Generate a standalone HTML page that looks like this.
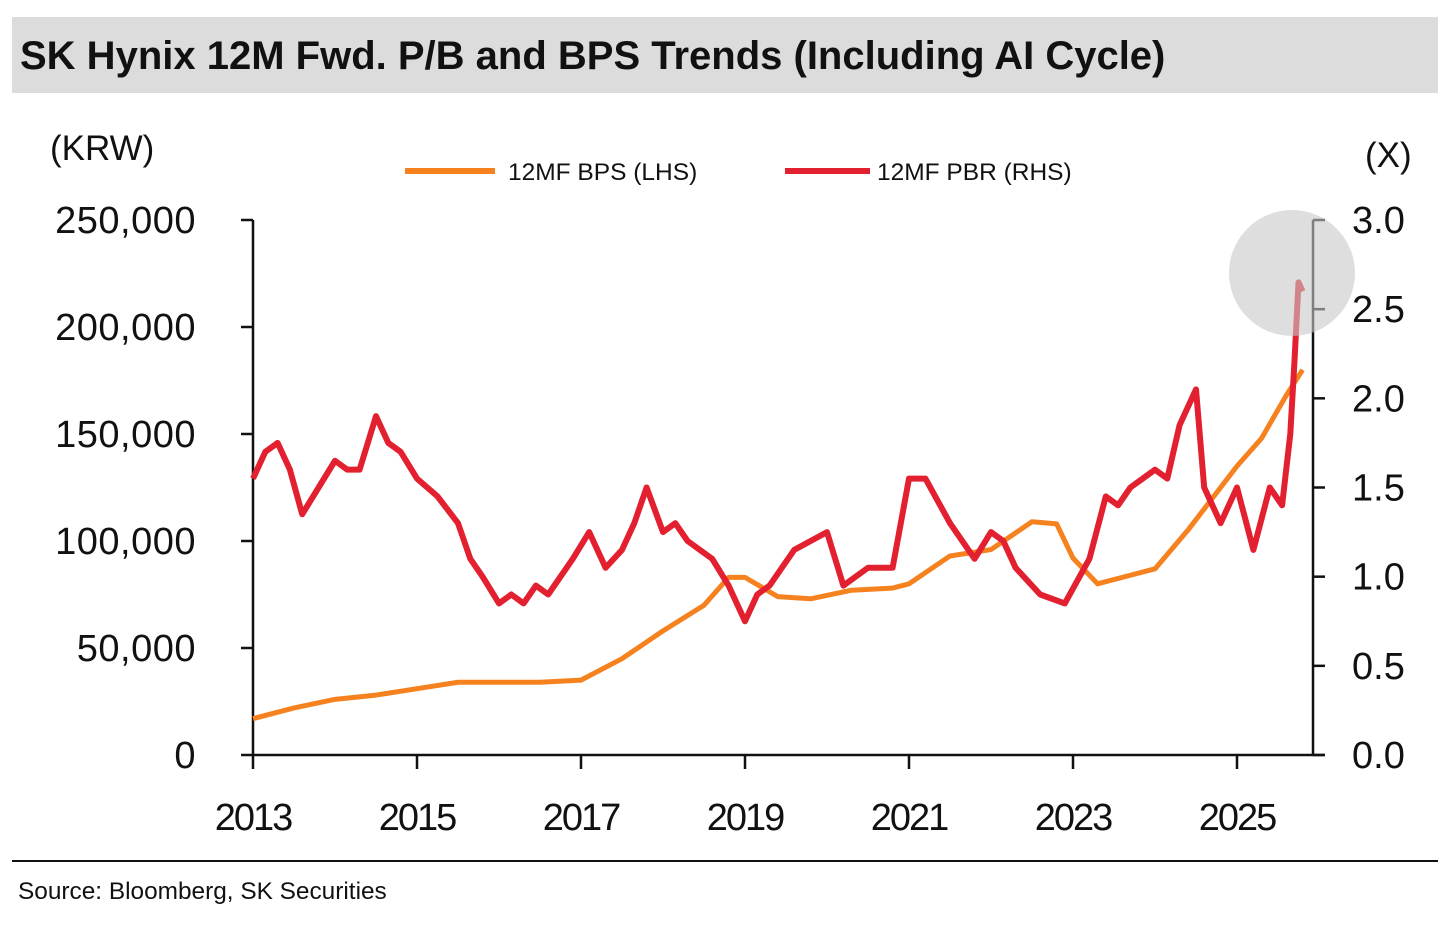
<!DOCTYPE html>
<html><head><meta charset="utf-8"><style>
body{margin:0;background:#fff;width:1456px;height:921px;overflow:hidden;font-family:"Liberation Sans",sans-serif}
</style></head><body>
<svg width="1456" height="921">
<rect x="12" y="17" width="1426" height="76" fill="#dcdcdc"/>
<text x="20" y="69" font-size="40" font-weight="bold" fill="#111">SK Hynix 12M Fwd. P/B and BPS Trends (Including AI Cycle)</text>
<text x="50" y="160" font-size="35" fill="#111">(KRW)</text>
<text x="1365" y="167" font-size="35" fill="#111">(X)</text>
<g>
<line x1="405" y1="171" x2="495" y2="171" stroke="#f5821f" stroke-width="6"/>
<text x="508" y="180" font-size="24.5" fill="#111">12MF BPS (LHS)</text>
<line x1="785" y1="171" x2="870" y2="171" stroke="#e3202f" stroke-width="6"/>
<text x="877" y="180" font-size="24.5" fill="#111">12MF PBR (RHS)</text>
</g>
<g id="axes"></g>
<g id="series"></g>
<circle cx="1292" cy="273" r="63" fill="#c8c8c8" opacity="0.6"/>
<line x1="12" y1="861" x2="1438" y2="861" stroke="#111" stroke-width="2"/>
<text x="18" y="899" font-size="24.4" fill="#111">Source: Bloomberg, SK Securities</text>
</svg>
<script>
const leftTicks=[0,50000,100000,150000,200000,250000];
const leftLabels=["0","50,000","100,000","150,000","200,000","250,000"];
const rightTicks=[0,0.5,1,1.5,2,2.5,3];
const rightLabels=["0.0","0.5","1.0","1.5","2.0","2.5","3.0"];
const yearTicks=[2013,2015,2017,2019,2021,2023,2025];
const bpsX=[2013,2013.5,2014,2014.5,2015,2015.5,2016,2016.5,2017,2017.5,2018,2018.5,2018.8,2019,2019.4,2019.8,2020.3,2020.8,2021,2021.5,2022,2022.5,2022.8,2023,2023.3,2023.7,2024,2024.4,2024.8,2025,2025.3,2025.6,2025.8];
const bpsY=[17000,22000,26000,28000,31000,34000,34000,34000,35000,45000,58000,70000,83000,83000,74000,73000,77000,78000,80000,93000,96000,109000,108000,92000,80000,84000,87000,105000,125000,135000,148000,168000,180000];
const pbrX=[2013,2013.15,2013.3,2013.45,2013.6,2013.8,2014,2014.15,2014.3,2014.5,2014.65,2014.8,2015,2015.25,2015.5,2015.65,2015.8,2016,2016.15,2016.3,2016.45,2016.6,2016.9,2017.1,2017.3,2017.5,2017.65,2017.8,2018,2018.15,2018.3,2018.6,2018.8,2019,2019.15,2019.3,2019.6,2019.8,2020,2020.2,2020.5,2020.8,2021,2021.2,2021.5,2021.8,2022,2022.15,2022.3,2022.6,2022.9,2023.2,2023.4,2023.55,2023.7,2024,2024.15,2024.3,2024.5,2024.6,2024.8,2025,2025.2,2025.4,2025.55,2025.65,2025.7,2025.75,2025.8];
const pbrY=[1.55,1.7,1.75,1.6,1.35,1.5,1.65,1.6,1.6,1.9,1.75,1.7,1.55,1.45,1.3,1.1,1.0,0.85,0.9,0.85,0.95,0.9,1.1,1.25,1.05,1.15,1.3,1.5,1.25,1.3,1.2,1.1,0.95,0.75,0.9,0.95,1.15,1.2,1.25,0.95,1.05,1.05,1.55,1.55,1.3,1.1,1.25,1.2,1.05,0.9,0.85,1.1,1.45,1.4,1.5,1.6,1.55,1.85,2.05,1.5,1.3,1.5,1.15,1.5,1.4,1.8,2.2,2.65,2.6];
const X0=253,X1=1313,YB=755,YT=220;
const xs=y=>X0+(y-2013)*82;
const yl=v=>YB-(v/250000)*(YB-YT);
const yr=v=>YB-(v/3)*(YB-YT);
const NS="http://www.w3.org/2000/svg";
const ax=document.getElementById('axes'),se=document.getElementById('series');
function mk(tag,attrs,parent){const e=document.createElementNS(NS,tag);for(const k in attrs)e.setAttribute(k,attrs[k]);parent.appendChild(e);return e;}
let e;
e=mk('line',{x1:X0,y1:YT,x2:X0,y2:YB,stroke:'#111','stroke-width':2.5},ax);


e=mk('line',{x1:X1,y1:YT,x2:X1,y2:YB,stroke:'#111','stroke-width':2.5},ax);


e=mk('line',{x1:X0,y1:YB,x2:1325,y2:YB,stroke:'#111','stroke-width':2.5},ax);


leftTicks.forEach((v,i)=>{
 e=mk('line',{x1:X0-12,y1:yl(v),x2:X0,y2:yl(v),stroke:'#111','stroke-width':2.5},ax);
 
 
 e=mk('text',{x:196,y:yl(v)+13,'font-size':38,'text-anchor':'end',fill:'#111','letter-spacing':'0.5'},ax);e.textContent=leftLabels[i];
 
 
});
rightTicks.forEach((v,i)=>{
 e=mk('line',{x1:X1,y1:yr(v),x2:X1+12,y2:yr(v),stroke:'#111','stroke-width':2.5},ax);
 
 
 e=mk('text',{x:1352,y:yr(v)+13,'font-size':38,fill:'#111','letter-spacing':'0'},ax);e.textContent=rightLabels[i];
 
 
});
yearTicks.forEach(y=>{
 e=mk('line',{x1:xs(y),y1:YB,x2:xs(y),y2:YB+14,stroke:'#111','stroke-width':2.5},ax);
 
 
 e=mk('text',{x:xs(y),y:830,'font-size':38,'text-anchor':'middle',fill:'#111','letter-spacing':'-2'},ax);e.textContent=y;
 
 
});
e=mk('polyline',{points:bpsX.map((x,i)=>xs(x)+','+yl(bpsY[i])).join(' '),fill:'none',stroke:'#f5821f','stroke-width':5,'stroke-linejoin':'round'},se);


e=mk('polyline',{points:pbrX.map((x,i)=>xs(x)+','+yr(pbrY[i])).join(' '),fill:'none',stroke:'#e3202f','stroke-width':6,'stroke-linejoin':'round'},se);


</script>
</body></html>
